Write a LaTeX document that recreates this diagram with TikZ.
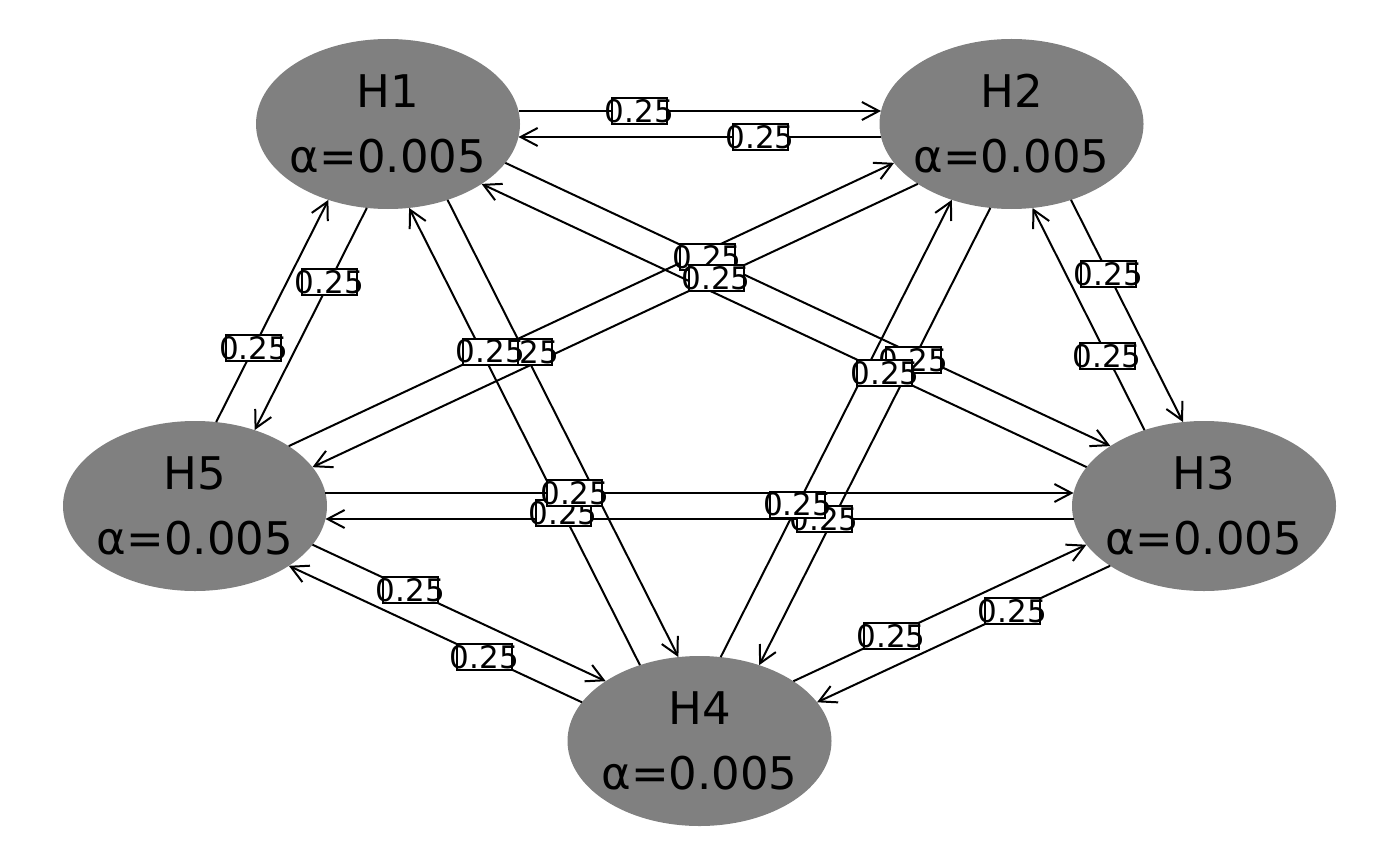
\documentclass[tikz,border=0pt]{standalone}
\usepackage{fontspec}
\setmainfont{DejaVu Sans}
\usetikzlibrary{shapes.geometric,arrows.meta,calc,intersections}
\tikzset{
  hnode/.style={ellipse, fill=gray, minimum width=132pt, minimum height=85pt,
    inner sep=-10pt, outer sep=0pt, align=center,
    font=\fontsize{22.5}{32.5}\selectfont},
  elab/.style={rectangle, draw=black, fill=white, line width=1pt,
    minimum width=27.5pt, minimum height=13pt, inner sep=0pt,
    font=\fontsize{15.5}{17}\selectfont},
  conn/.style={line width=1pt, -{Straight Barb[length=8.5pt,width=9pt]}}
}
\newcommand\hedge[2]{%
  \path let \p1=(#1.center), \p2=(#2.center),
        \n1={\x2-\x1}, \n2={\y2-\y1},
        \n3={veclen(\n1/1.555,\n2)},
        \n4={-\n2*1.555*6.5/\n3}, \n5={\n1/1.555*6.5/\n3}
     in ($(\p1)+(\n4,\n5)$) coordinate (#1#2a)
        ($(\p2)+(\n4,\n5)$) coordinate (#1#2b);
  \path[name path=tmp] (#1#2a) -- (#1#2b);
  \path[name intersections={of=#1 and tmp, by=#1#2s}];
  \path[name intersections={of=#2 and tmp, by=#1#2e}];
  \draw[conn] (#1#2s) -- (#1#2e) coordinate[pos=0.3333] (#1#2l);
}
\begin{document}
\begin{tikzpicture}[x=0.5pt,y=-0.5pt]
\useasboundingbox (0,0) rectangle (1400,866);
\node[hnode, name path global=H1] (H1) at (388,124) {H1\\α=0.005};
\node[hnode, name path global=H2] (H2) at (1011.5,124) {H2\\α=0.005};
\node[hnode, name path global=H3] (H3) at (1204,506) {H3\\α=0.005};
\node[hnode, name path global=H4] (H4) at (699.5,741) {H4\\α=0.005};
\node[hnode, name path global=H5] (H5) at (195,506) {H5\\α=0.005};
\foreach \a/\b in {H1/H2,H1/H3,H1/H4,H1/H5,H2/H1,H2/H3,H2/H4,H2/H5,H3/H1,H3/H2,H3/H4,H3/H5,H4/H1,H4/H2,H4/H3,H4/H5,H5/H1,H5/H2,H5/H3,H5/H4}
  {\hedge{\a}{\b}}
\foreach \a/\b in {H1/H2,H1/H3,H1/H4,H1/H5,H2/H1,H2/H3,H2/H4,H2/H5,H3/H1,H3/H2,H3/H4,H3/H5,H4/H1,H4/H2,H4/H3,H4/H5,H5/H1,H5/H2,H5/H3,H5/H4}
  {\node[elab] (L\a\b) at (\a\b l) {\raisebox{-0.6pt}{\makebox[0pt]{0.25}}};}
\end{tikzpicture}
\end{document}
